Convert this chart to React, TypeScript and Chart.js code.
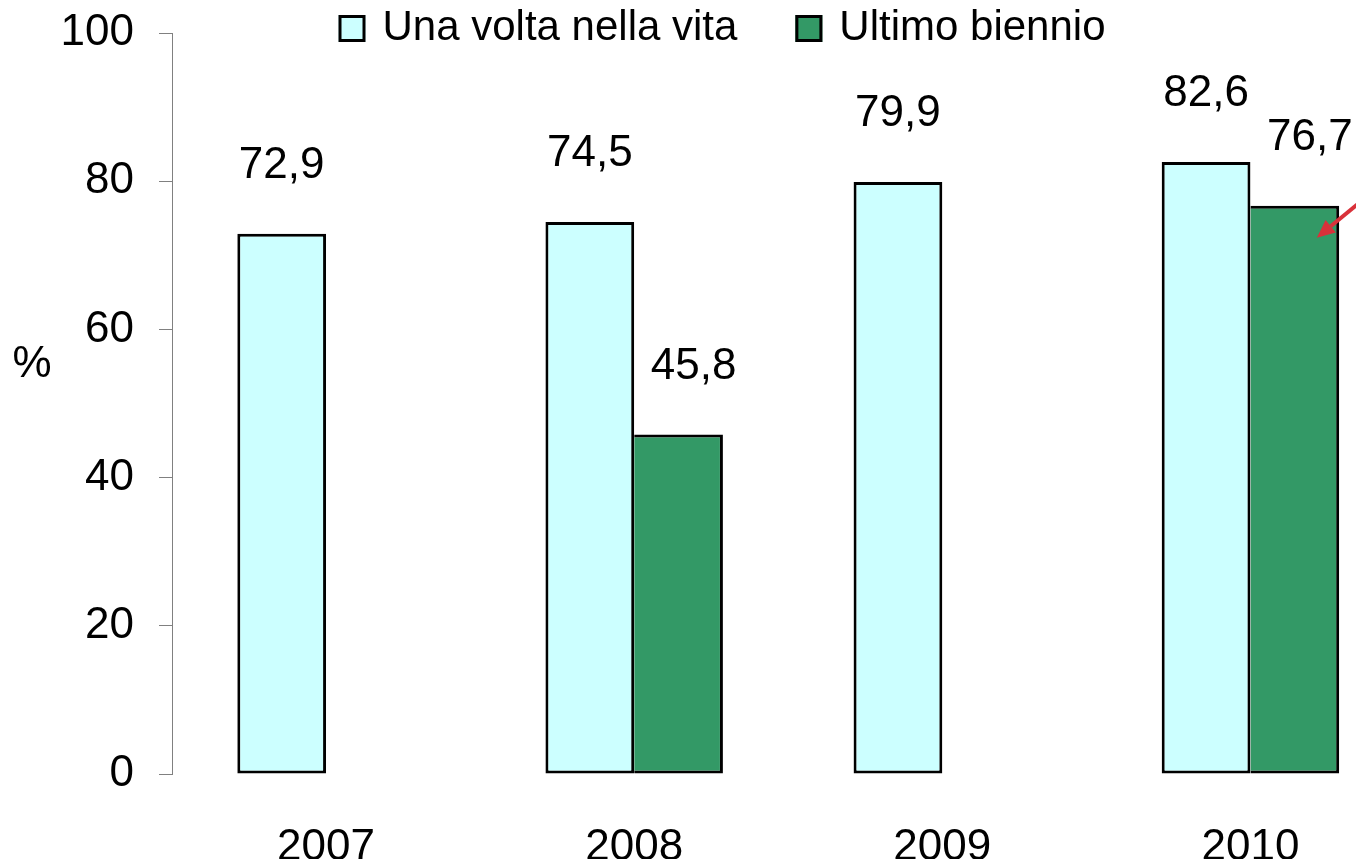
import React, { useEffect, useRef } from 'react';
import { Chart, registerables } from 'chart.js';

Chart.register(...registerables);

const years = ['2007', '2008', '2009', '2010'];
const onceInLife = [72.9, 74.5, 79.9, 82.6];
const lastTwoYears = [null, 45.8, null, 76.7];
const seriesNames = ['Una volta nella vita', 'Ultimo biennio'];
const seriesColors = ['#CCFFFF', '#339966'];
const yMin = 0;
const yMax = 100;
const yStep = 20;
const yTitle = '%';

const FONT = "'Liberation Sans', Arial, Helvetica, sans-serif";
const FS = 44;
const LEGEND_FS = 42;
const W = 1444;
const H = 859;

const fmt = (v: number) => v.toFixed(1).replace('.', ',');

const valueLabels = {
  id: 'valueLabels',
  afterDatasetsDraw(chart: any) {
    const ctx = chart.ctx;
    ctx.save();
    ctx.font = `${FS}px ${FONT}`;
    ctx.fillStyle = '#000';
    ctx.textAlign = 'center';
    ctx.textBaseline = 'alphabetic';
    chart.data.datasets.forEach((ds: any, di: number) => {
      const meta = chart.getDatasetMeta(di);
      meta.data.forEach((el: any, i: number) => {
        const v = ds.data[i];
        if (v === null || v === undefined) return;
        const dx = di === 1 ? 15 : 0;
        ctx.fillText(fmt(v), el.x + dx, el.y - 56);
      });
    });
    ctx.restore();
  },
};

const customLegend = {
  id: 'customLegend',
  afterDraw(chart: any) {
    const ctx = chart.ctx;
    ctx.save();
    ctx.font = `${LEGEND_FS}px ${FONT}`;
    const box = 27;
    const gap = 17;
    const itemGap = 58;
    const items = chart.data.datasets.map((ds: any) => ({
      label: ds.label,
      color: ds.backgroundColor,
      w: ctx.measureText(ds.label).width,
    }));
    const total = items.reduce((s: number, it: any) => s + box + gap + it.w, 0) + itemGap * (items.length - 1);
    let x = chart.width / 2 - total / 2;
    const boxTop = 15;
    const baseline = 40;
    items.forEach((it: any) => {
      ctx.fillStyle = it.color;
      ctx.fillRect(x, boxTop, box, box);
      ctx.strokeStyle = '#000';
      ctx.lineWidth = 3;
      ctx.strokeRect(x + 1.5, boxTop + 1.5, box - 3, box - 3);
      ctx.fillStyle = '#000';
      ctx.textAlign = 'left';
      ctx.textBaseline = 'alphabetic';
      ctx.fillText(it.label, x + box + gap, baseline);
      x += box + gap + it.w + itemGap;
    });
    ctx.restore();
  },
};

const yAxisTitle = {
  id: 'yAxisTitle',
  afterDraw(chart: any) {
    const ctx = chart.ctx;
    const area = chart.chartArea;
    ctx.save();
    ctx.font = `${FS}px ${FONT}`;
    ctx.fillStyle = '#000';
    ctx.textAlign = 'center';
    ctx.textBaseline = 'alphabetic';
    ctx.fillText(yTitle, area.left - 140, area.top + 344);
    ctx.restore();
  },
};

const arrowNote = {
  id: 'arrowNote',
  afterDraw(chart: any) {
    const meta = chart.getDatasetMeta(1);
    const el = meta.data[meta.data.length - 1];
    if (!el) return;
    const ctx = chart.ctx;
    const tipX = el.x + 22;
    const tipY = el.y + 32;
    const len = Math.hypot(39, -32);
    const ux = 39 / len;
    const uy = -32 / len;
    const headLen = 18;
    const headHalf = 8;
    const baseX = tipX + ux * headLen;
    const baseY = tipY + uy * headLen;
    ctx.save();
    ctx.strokeStyle = '#D9313A';
    ctx.fillStyle = '#D9313A';
    ctx.lineWidth = 4;
    ctx.beginPath();
    ctx.moveTo(baseX, baseY);
    ctx.lineTo(tipX + ux * 140, tipY + uy * 140);
    ctx.stroke();
    ctx.beginPath();
    ctx.moveTo(tipX, tipY);
    ctx.lineTo(baseX - uy * headHalf, baseY + ux * headHalf);
    ctx.lineTo(baseX + uy * headHalf, baseY - ux * headHalf);
    ctx.closePath();
    ctx.fill();
    ctx.restore();
  },
};

export default function App() {
  const ref = useRef<HTMLCanvasElement | null>(null);

  useEffect(() => {
    if (!ref.current) return;
    const chart = new Chart(ref.current, {
      type: 'bar',
      data: {
        labels: years,
        datasets: [
          {
            label: seriesNames[0],
            data: onceInLife,
            backgroundColor: seriesColors[0],
            borderColor: '#000',
            borderWidth: 3,
            borderSkipped: false,
          },
          {
            label: seriesNames[1],
            data: lastTwoYears as any,
            backgroundColor: seriesColors[1],
            borderColor: '#000',
            borderWidth: 3,
            borderSkipped: 'left',
          },
        ],
      },
      options: {
        responsive: false,
        animation: false,
        devicePixelRatio: 1,
        layout: { padding: { left: 0, right: W - 1404.5, top: 33, bottom: 0 } },
        datasets: {
          bar: { categoryPercentage: 0.576, barPercentage: 1 },
        },
        plugins: {
          legend: { display: false },
          tooltip: { enabled: false },
          title: { display: false },
        },
        scales: {
          x: {
            grid: { display: false },
            border: { display: false },
            ticks: {
              color: '#000',
              font: { family: FONT, size: FS },
              padding: 39,
              maxRotation: 0,
            },
            afterFit: (s: any) => {
              s.height = 85;
              s.paddingLeft = 0;
              s.paddingRight = 0;
            },
          },
          y: {
            min: yMin,
            max: yMax,
            grid: {
              display: true,
              drawOnChartArea: false,
              drawTicks: true,
              tickLength: 13,
              color: '#808080',
              lineWidth: 1,
            },
            border: { display: true, color: '#808080', width: 1 },
            ticks: {
              stepSize: yStep,
              color: '#000',
              font: { family: FONT, size: FS },
              padding: 25,
            },
            afterFit: (s: any) => {
              s.width = 172;
              s.paddingTop = 0;
              s.paddingBottom = 0;
            },
          },
        },
      },
      plugins: [valueLabels, customLegend, yAxisTitle, arrowNote],
    });
    return () => chart.destroy();
  }, []);

  return (
    <div
      style={{
        position: 'fixed',
        left: 0,
        top: 0,
        width: '100vw',
        height: '100vh',
        overflow: 'hidden',
        background: '#fff',
      }}
    >
      <canvas ref={ref} width={W} height={H} style={{ display: 'block' }} />
    </div>
  );
}
